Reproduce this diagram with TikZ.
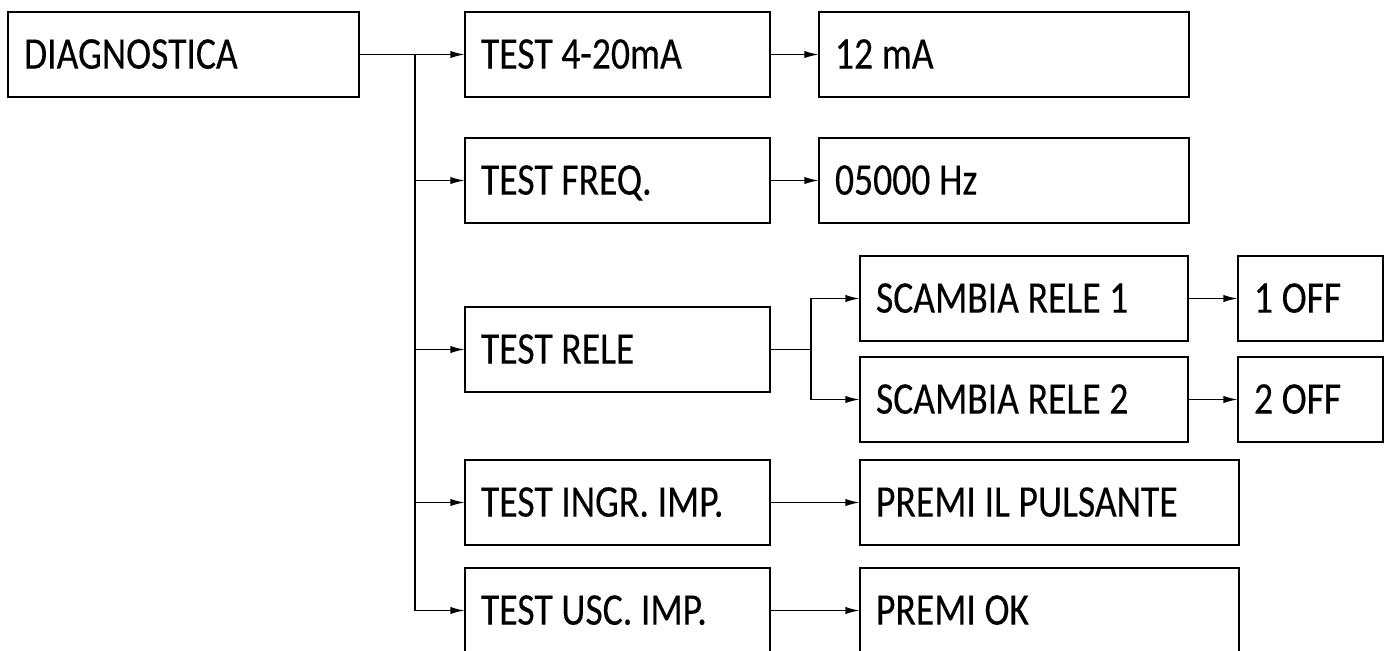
\documentclass[tikz,border=0pt]{standalone}
\usepackage{fontspec}
\setmainfont{Carlito}[FakeStretch=0.83,FakeBold=0.2]
\usetikzlibrary{arrows.meta}
\begin{document}
\begin{tikzpicture}[x=0.75pt,y=-0.75pt,
  box/.style={draw, line width=1.3pt, anchor=north west, outer sep=0pt, inner xsep=12pt, inner ysep=0pt,
    text width=#1, align=left, minimum height=63.75pt, text height=21.2pt, text depth=0pt,
    font=\fontsize{34pt}{36pt}\selectfont,
    execute at begin node={\spaceskip=6.5pt plus 1pt\relax}},
  ln/.style={line width=1.3pt},
  arr/.style={line width=1.3pt, -{Latex[length=11pt,width=5.5pt]}}]
\useasboundingbox (0,0) rectangle (1388,650);
% column 1
\node[box=239.25pt] (diag) at (8,12) {DIAGNOSTICA};
% column 2
\node[box=204.75pt] (t1) at (465,12) {TEST 4-20mA};
\node[box=204.75pt] (t2) at (465,138) {TEST FREQ.};
\node[box=204.75pt] (t3) at (465,307) {TEST RELE};
\node[box=204.75pt] (t4) at (465,460) {TEST INGR. IMP.};
\node[box=204.75pt] (t5) at (465,568) {TEST USC. IMP.};
% column 3
\node[box=253.5pt] (r1) at (819,12) {12 mA};
\node[box=253.5pt] (r2) at (819,138) {05000 Hz};
\node[box=222pt] (s1) at (860,256) {SCAMBIA RELE 1};
\node[box=222pt] (s2) at (860,357) {SCAMBIA RELE 2};
\node[box=260.25pt] (p4) at (860,460) {PREMI IL PULSANTE};
\node[box=260.25pt] (p5) at (860,568) {PREMI OK};
% column 4
\node[box=84.75pt] (o1) at (1238,256) {1 OFF};
\node[box=84.75pt] (o2) at (1238,357) {2 OFF};
% connectors
\draw[arr] (diag.east) -- (t1.west);
\path (diag.east) -- ++(56,0) coordinate (j);
\draw[arr] (j) |- (t2.west);
\draw[arr] (j) |- (t3.west);
\draw[arr] (j) |- (t4.west);
\draw[arr] (j) |- (t5.west);
\draw[arr] (t1.east) -- (r1.west);
\draw[arr] (t2.east) -- (r2.west);
\draw[ln] (t3.east) -- ++(41,0) coordinate (b);
\draw[arr] (b) |- (s1.west);
\draw[arr] (b) |- (s2.west);
\draw[arr] (s1.east) -- (o1.west);
\draw[arr] (s2.east) -- (o2.west);
\draw[arr] (t4.east) -- (p4.west);
\draw[arr] (t5.east) -- (p5.west);
\end{tikzpicture}
\end{document}
